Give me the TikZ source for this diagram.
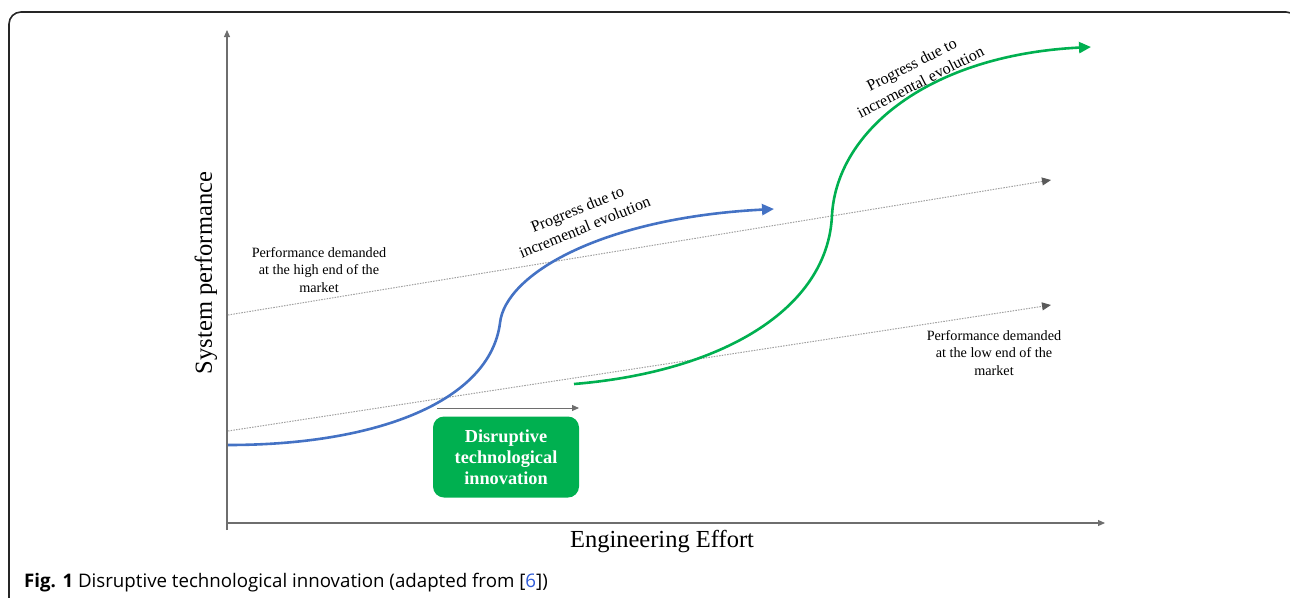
\documentclass[tikz,border=0pt]{standalone}
\usepackage{fontspec}
\setmainfont{Liberation Serif}
\newfontfamily\capfont{Open Sans}
\usetikzlibrary{arrows.meta}
\definecolor{cblue}{HTML}{4472C4}
\definecolor{cgreen}{HTML}{00B050}
\definecolor{caxis}{HTML}{6E6E6E}
\definecolor{cdot}{HTML}{A0A0A0}
\definecolor{chead}{HTML}{5A5A5A}
\definecolor{clink}{HTML}{2F5BD8}
\tikzset{
  axisline/.style={draw=caxis, line width=1.1pt, -{Triangle[length=7pt,width=6pt]}},
  demandline/.style={draw=cdot, line width=1pt, dash pattern=on 1.5pt off 1.2pt,
    -{Triangle[length=9pt,width=8pt,fill=chead,color=chead]}},
  curveblue/.style={draw=cblue, line width=2.6pt, -{Triangle[length=12pt,width=11pt]}},
  curvegreen/.style={draw=cgreen, line width=2.6pt, -{Triangle[length=12pt,width=11pt]}},
  smalltxt/.style={font=\fontsize{14.2}{17.5}\selectfont, align=center, inner sep=0pt},
  progtxt/.style={font=\fontsize{16}{19.5}\selectfont, align=center, inner sep=0pt},
  axistxt/.style={font=\fontsize{24.5}{28}\selectfont, inner sep=0pt},
  disbox/.style={fill=cgreen, rounded corners=11pt, minimum width=146pt, minimum height=81pt,
    text=white, font=\bfseries\fontsize{18.3}{21}\selectfont, align=center, inner sep=0pt},
  frame/.style={draw=black!85, line width=1.6pt, rounded corners=12pt}
}
\begin{document}
\begin{tikzpicture}[x=1pt,y=-1pt]
\useasboundingbox (0,0) rectangle (1290,597);
\begin{scope}
\clip (0,0) rectangle (1290,597);
\draw[frame] (9,640) -- (9,12) -- (1298,12) -- (1298,640);
\end{scope}
% axes
\coordinate (O) at (227,523);
\coordinate (ytop) at (227,30);
\coordinate (xend) at (1105,523);
\draw[axisline] (227,530) -- (ytop);
\draw[axisline] (O) -- (xend);
\node[axistxt, rotate=90] (ylab) at (206,273) {System performance};
\node[axistxt] (xlab) at (662,542) {Engineering Effort};
% demand lines
\coordinate (h0) at (228,315);
\coordinate (h1) at (1051,180);
\coordinate (l0) at (228,431);
\coordinate (l1) at (1051,305);
\draw[demandline] (h0) -- (h1);
\draw[demandline] (l0) -- (l1);
\node[smalltxt] (hlab) at (319,270) {Performance demanded\\at the high end of the\\market};
\node[smalltxt] (llab) at (994,353) {Performance demanded\\at the low end of the\\market};
% blue curve
\coordinate (b0) at (228,445);
\coordinate (bm) at (500,323);
\coordinate (b1) at (774,209);
\draw[curveblue] (b0) .. controls (380,445) and (490,400) .. (bm)
  .. controls (505,275) and (600,218) .. (b1);
% green curve
\coordinate (g0) at (574,384);
\coordinate (gm) at (832,215);
\coordinate (g1) at (1091,47);
\draw[curvegreen] (g0) .. controls (720,372) and (828,310) .. (gm)
  .. controls (837,130) and (930,55) .. (g1);
% labels on curves
\node[progtxt, rotate=22] (bl) at (581,218) {Progress due to\\incremental evolution};
\node[progtxt, rotate=27] (gl) at (916,73) {Progress due to\\incremental evolution};
% disruptive
\node[disbox] (dis) at (506,457) {Disruptive\\technological\\innovation};
\coordinate (a0) at (437,408);
\coordinate (a1) at (579,408);
\draw[axisline, line width=0.9pt] (a0) -- (a1);
% caption
\node[anchor=base west, inner sep=0pt, font=\capfont\fontsize{18.7}{22}\selectfont] (cap) at (24,587)
  {\textbf{Fig. 1} Disruptive technological innovation (adapted from [\textcolor{clink}{6}])};
\end{tikzpicture}
\end{document}
